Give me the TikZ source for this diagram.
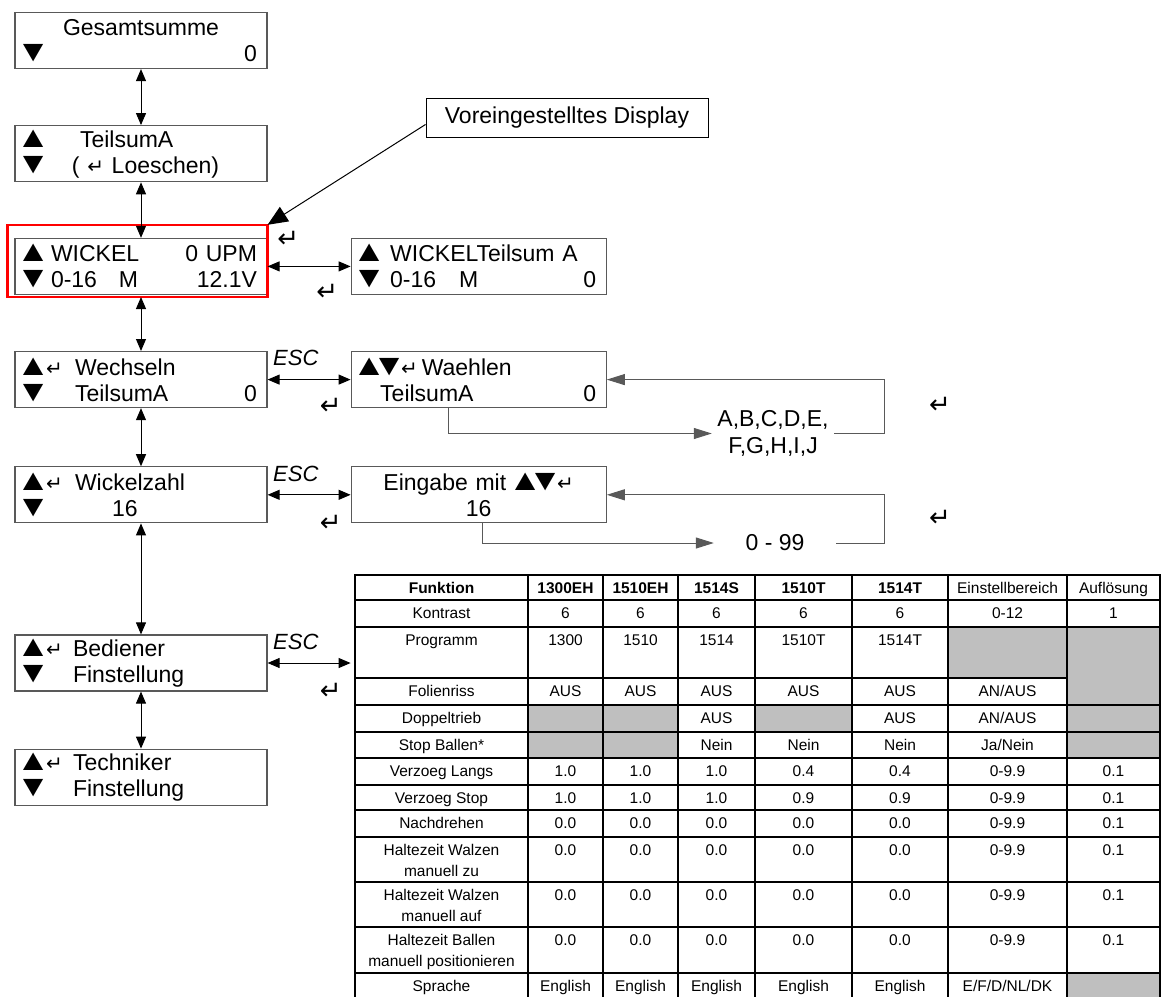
\documentclass[tikz,border=0pt]{standalone}
\usepackage{fontspec}
\setmainfont{Liberation Sans}
\newfontfamily\symfont{DejaVu Sans}
\usetikzlibrary{arrows.meta, positioning}
\definecolor{boxline}{gray}{0.35}
\definecolor{cellgray}{gray}{0.75}
\newcommand{\tup}{\makebox[18pt][l]{\hspace{-9pt}\scalebox{1.5}[1.3]{▲}}}
\newcommand{\tdn}{\makebox[18pt][l]{\hspace{-9pt}\scalebox{1.5}[1.3]{▼}}}
\newcommand{\rkey}{{\symfont\fontsize{20}{20}\selectfont ↵}}
\newcommand{\keycol}[2]{\makebox[#1][l]{#2}}
\newcommand{\tabrow}[3]{\foreach \txt [count=\ci] in {#3} {
  \pgfmathsetmacro{\cx}{{441.5,565.5,640.5,716.5,803.5,900,1007.5,1113.5}[\ci-1]}
  \node[tcell] (#1-\ci) at (\cx, #2+7.5) {\txt};}}

\begin{document}
\begin{tikzpicture}[x=1pt, y=-1pt, >={Triangle[length=12pt, width=10pt]},
  disp/.style={draw=boxline, line width=1.2pt, minimum width=252pt, minimum height=56pt, text width=232pt, inner xsep=10pt, inner ysep=0pt, align=left, font=\fontsize{23}{26}\selectfont},
  dispr/.style={disp, minimum width=255pt, text width=235pt},
  link/.style={<->, line width=1pt},
  back/.style={-{Triangle[length=18pt, width=11pt]}, draw=boxline, line width=1pt},
  esc/.style={font=\fontsize{22}{22}\selectfont\itshape, inner sep=0pt},
  ret/.style={font=\symfont\fontsize{26}{26}\selectfont, inner sep=0pt},
  tcell/.style={anchor=north, inner sep=0pt, align=center, font=\fontsize{15.5}{20.5}\selectfont},
  tabline/.style={line width=1.6pt, line cap=rect}]
\useasboundingbox (0,0) rectangle (1162,996);
\clip (0,0) rectangle (1162,996);

\node[disp] (tot) at (141, 40.5) {\hspace*{\fill}Gesamtsumme\hspace*{\fill}\null\\ \tdn\hfill 0};
\node[disp, below=56pt of tot] (tsa) {\keycol{55pt}{\tup}TeilsumA\\ \keycol{47pt}{\tdn}( \rkey\ Loeschen)};
\node[disp, below=55.5pt of tsa] (wic) {\keycol{26pt}{\tup}WICKEL\hfill 0 UPM\\ \keycol{26pt}{\tdn}\keycol{68pt}{0-16}M\hfill 12.1V};
\node[dispr, right=83pt of wic] (wts) {\keycol{29pt}{\tup}WICKELTeilsum A\\ \keycol{29pt}{\tdn}\keycol{69pt}{0-16}M\hfill 0};
\node[disp, below=56pt of wic] (wch) {\keycol{50pt}{\tup\kern3pt\rkey}Wechseln\\ \keycol{50pt}{\tdn}TeilsumA\hfill 0};
\node[dispr, right=83pt of wch] (wae) {\tup\kern2pt\tdn\kern2pt\rkey\,Waehlen\\ \hspace*{19pt}TeilsumA\hfill 0};
\node[disp, below=58pt of wch] (wz) {\keycol{50pt}{\tup\kern3pt\rkey}Wickelzahl\\ \keycol{87pt}{\tdn}16};
\node[dispr, right=83pt of wz, align=center] (ein) {Eingabe mit\hspace{11pt}\tup\kern2pt\tdn\kern2pt\rkey\\ 16};
\node[disp, below=111pt of wz] (bed) {\keycol{48pt}{\tup\kern3pt\rkey}Bediener\\ \keycol{48pt}{\tdn}Finstellung};
\node[disp, below=57pt of bed] (tec) {\keycol{48pt}{\tup\kern3pt\rkey}Techniker\\ \keycol{48pt}{\tdn}Finstellung};

\draw[red, line width=2.5pt] ([xshift=-7pt, yshift=13pt]wic.north west) rectangle ([yshift=-2pt]wic.south east);
\coordinate (wicne) at ([yshift=13pt]wic.north east);
\node[draw, line width=1pt, minimum width=282pt, minimum height=39pt, font=\fontsize{23}{23}\selectfont] (cal) at (567, 117.5) {Voreingestelltes Display};
\draw[-{Triangle[length=20pt, width=17pt]}, line width=1pt] ([yshift=-7pt]cal.west) -- (wicne);

\draw[link] (tot) -- (tsa);
\draw[link] (tsa) -- (wic);
\draw[link] ([yshift=-2pt]wic.south) -- (wch);
\draw[link] (wch) -- (wz);
\draw[link] (wz) -- (bed);
\draw[link] (bed) -- (tec);

\coordinate[right=83pt of bed.east] (tabin);
\draw[link] (wic) -- node[ret, pos=0.25, yshift=27pt] (r1) {↵} node[ret, pos=0.72, yshift=-26pt] (r2) {↵} (wts);
\draw[link] (wch) -- node[esc, pos=0.34, above=13pt] (e1) {ESC} node[ret, pos=0.76, yshift=-27pt] (r3) {↵} (wae);
\draw[link] (wz) -- node[esc, pos=0.34, above=13pt] (e2) {ESC} node[ret, pos=0.76, yshift=-29pt] (r4) {↵} (ein);
\draw[link] (bed) -- node[esc, pos=0.34, above=13pt] (e3) {ESC} node[ret, pos=0.76, yshift=-28pt] (r5) {↵} (tabin);

\node[font=\fontsize{23}{27}\selectfont, align=center, minimum width=122pt, inner sep=0pt] (abc) at (773, 433.5) {A,B,C,D,E,\\F,G,H,I,J};
\draw[back] ([xshift=-30.5pt]wae.south) |- (abc.west);
\draw[back] (abc.east) -- ++(50,0) |- (wae.east);
\node[ret] (r6) at (940, 405) {↵};
\node[font=\fontsize{23}{23}\selectfont, minimum width=122pt, inner sep=0pt] (rng) at (775, 543) {0 - 99};
\draw[back] ([xshift=3.5pt]ein.south) |- (rng.west);
\draw[back] (rng.east) -- ++(48,0) |- (ein.east);
\node[ret] (r7) at (940, 518) {↵};

\fill[cellgray] (948,627) rectangle (1067,678) (1067,627) rectangle (1160,705) (528,705) rectangle (678,758)
  (755,705) rectangle (852,732) (1067,705) rectangle (1160,758) (1067,973) rectangle (1160,1000);
\foreach \yy in {575,600,627,705,732,758,785,810,837,882,927,973} \draw[tabline] (355,\yy) -- (1160,\yy);
\draw[tabline] (355,678) -- (1067,678);
\foreach \xx in {355,528,603,678,755,852,948,1067,1160} \draw[tabline] (\xx,575) -- (\xx,1000);

\tabrow{hd}{575}{\textbf{Funktion},\textbf{1300EH},\textbf{1510EH},\textbf{1514S},\textbf{1510T},\textbf{1514T},Einstellbereich,Auflösung}
\tabrow{ko}{600}{Kontrast,6,6,6,6,6,0-12,1}
\tabrow{pr}{627}{Programm,1300,1510,1514,1510T,1514T}
\tabrow{fo}{678}{Folienriss,AUS,AUS,AUS,AUS,AUS,AN/AUS}
\tabrow{dt}{705}{Doppeltrieb,{},{},AUS,{},AUS,AN/AUS}
\tabrow{sb}{732}{Stop Ballen*,{},{},Nein,Nein,Nein,Ja/Nein}
\tabrow{vl}{758}{Verzoeg Langs,1.0,1.0,1.0,0.4,0.4,0-9.9,0.1}
\tabrow{vs}{785}{Verzoeg Stop,1.0,1.0,1.0,0.9,0.9,0-9.9,0.1}
\tabrow{nd}{810}{Nachdrehen,0.0,0.0,0.0,0.0,0.0,0-9.9,0.1}
\tabrow{hz}{837}{{Haltezeit Walzen\\manuell zu},0.0,0.0,0.0,0.0,0.0,0-9.9,0.1}
\tabrow{ha}{882}{{Haltezeit Walzen\\manuell auf},0.0,0.0,0.0,0.0,0.0,0-9.9,0.1}
\tabrow{hb}{927}{{Haltezeit Ballen\\manuell positionieren},0.0,0.0,0.0,0.0,0.0,0-9.9,0.1}
\tabrow{sp}{973}{Sprache,English,English,English,English,English,E/F/D/NL/DK}
\end{tikzpicture}
\end{document}
